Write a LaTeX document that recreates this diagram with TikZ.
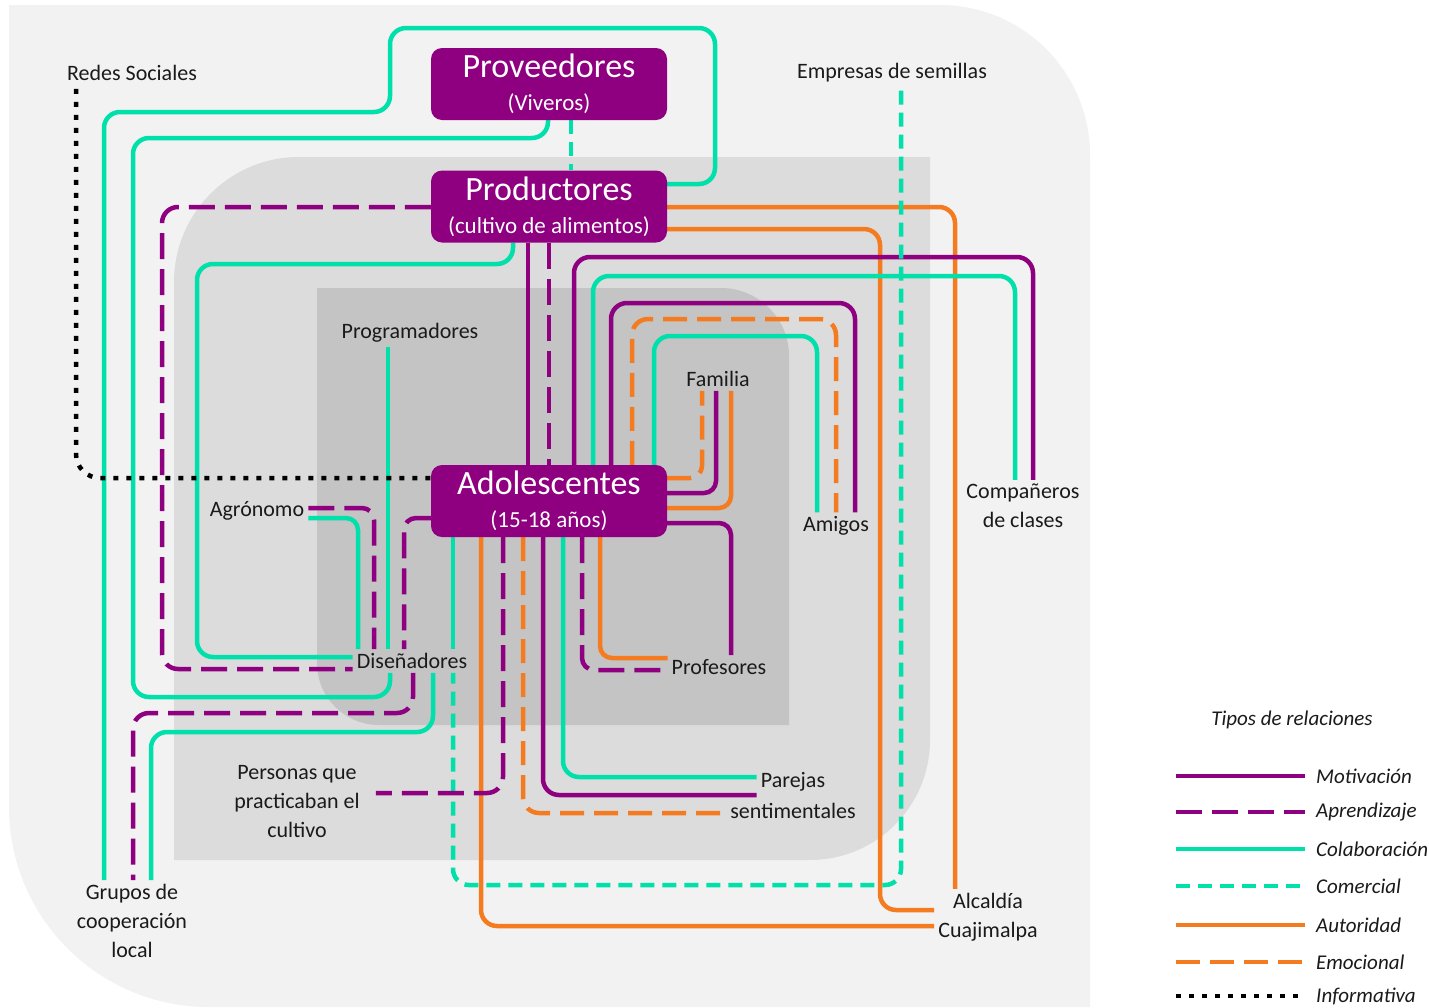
\documentclass[tikz,border=0pt]{standalone}
\usepackage{fontspec}
\setmainfont{Carlito}
\usetikzlibrary{positioning}

\definecolor{morado}{HTML}{8E0080}
\definecolor{turquesa}{HTML}{00E0AA}
\definecolor{naranja}{HTML}{F47B20}
\definecolor{fondoA}{HTML}{F2F2F2}
\definecolor{fondoB}{HTML}{DCDCDC}
\definecolor{fondoC}{HTML}{C4C4C4}
\definecolor{texto}{HTML}{1A1A1A}

\pgfdeclarelayer{fondo}
\pgfdeclarelayer{lineas}
\pgfsetlayers{fondo,lineas,main}

\tikzset{
  rel/.style={line width=4.5pt, rounded corners=16pt},
  motiv/.style={rel, draw=morado},
  aprend/.style={rel, draw=morado, dash pattern=on 26pt off 10pt},
  colab/.style={rel, draw=turquesa},
  comerc/.style={rel, draw=turquesa, dash pattern=on 14pt off 8pt},
  autor/.style={rel, draw=naranja},
  emoc/.style={rel, draw=naranja, dash pattern=on 24pt off 10pt},
  inform/.style={rel, draw=black, dash pattern=on 5pt off 8pt},
  caja/.style={fill=morado, text=white, rounded corners=11pt, minimum width=236pt,
    minimum height=72pt, align=center, inner sep=0pt, font=\fontsize{34}{33}\selectfont},
  etiq/.style={text=texto, font=\fontsize{22}{29}\selectfont, align=center, inner sep=4pt},
  leyenda/.style={text=texto, font=\itshape\fontsize{21}{24}\selectfont, inner sep=0pt},
}
\newcommand{\titcaja}[2]{#1\\{\fontsize{23}{33}\selectfont #2}}

\begin{document}
\begin{tikzpicture}[x=1pt,y=-1pt]
\useasboundingbox (0,0) rectangle (1429,1007);

\begin{pgfonlayer}{fondo}
\fill[white] (0,0) rectangle (1429,1007);
\fill[fondoA] (9,5) [rounded corners=150pt] -- (1090,5) [sharp corners] -- (1090,1007)
  [rounded corners=200pt] -- (9,1007) [sharp corners] -- cycle;
\fill[fondoB] (174,860) [rounded corners=125pt] -- (174,157) [sharp corners] -- (930,157)
  [rounded corners=120pt] -- (930,860) [sharp corners] -- cycle;
\fill[fondoC] (317,288) [rounded corners=68pt] -- (789,288) [sharp corners] -- (789,725)
  [rounded corners=62pt] -- (317,725) [sharp corners] -- cycle;
\end{pgfonlayer}

\node[caja] (prov) at (549,84) {\titcaja{Proveedores}{(Viveros)}};
\node[caja] (prod) at (549,206.5) {\titcaja{Productores}{(cultivo de alimentos)}};
\node[caja] (ado) at (549,501) {\titcaja{Adolescentes}{(15-18 años)}};

\node[etiq] (redes) at (132,73) {Redes Sociales};
\node[etiq] (emp) at (892,73) {Empresas de semillas};
\node[etiq] (prog) at (410,333) {Programadores};
\node[etiq] (fam) at (718,379) {Familia};
\node[etiq] (agro) at (257,511) {Agrónomo};
\node[etiq] (ami) at (836,526) {Amigos};
\node[etiq] (comp) at (1023,506) {Compañeros\\de clases};
\node[etiq] (dis) at (412,661) {Diseñadores};
\node[etiq] (prof) at (719,667) {Profesores};
\node[etiq] (par1) at (793,782) {Parejas};
\node[etiq] (par2) at (793,811) {sentimentales};
\node[etiq, inner xsep=16pt] (pers) at (297,802) {Personas que\\practicaban el\\cultivo};
\node[etiq] (grup) at (132,921) {Grupos de\\cooperación\\local};
\node[etiq] (alc) at (988,917) {Alcaldía\\Cuajimalpa};

\begin{pgfonlayer}{lineas}
\draw[autor] (prod.east |- 0,207) -- (955,207) -- (alc.north -| 955,0);
\draw[autor] (prod.east |- 0,229) -- (880,229) -- (880,910) -- (alc.west |- 0,910);
\draw[colab] (prod.east |- 0,184) -- (715,184) -- (715,28) -- (390,28) -- (390,112)
  -- (104,112) -- (grup.north -| 104,0);
\draw[colab] (prov.south -| 548,0) -- (548,138) -- (133,138) -- (133,697) -- (390,697)
  -- (dis.south -| 390,0);
\draw[comerc] (prov.south -| 571,0) -- (prod.north -| 571,0);
\draw[aprend] (prod.west |- 0,207) -- (162,207) -- (162,669) -- (dis.west |- 0,669);
\draw[colab] (prod.south -| 513,0) -- (513,264) -- (197,264) -- (197,657) -- (dis.west |- 0,657);
\draw[motiv] (prod.south -| 528,0) -- (ado.north -| 528,0);
\draw[aprend] (prod.south -| 549,0) -- (ado.north -| 549,0);

\draw[motiv] (ado.north -| 574,0) -- (574,257) -- (1033,257) -- (comp.north -| 1033,0);
\draw[colab] (ado.north -| 593,0) -- (593,276) -- (1015,276) -- (comp.north -| 1015,0);
\draw[motiv] (ado.north -| 611,0) -- (611,303) -- (855,303) -- (ami.north -| 855,0);
\draw[emoc] (ado.north -| 632,0) -- (632,319) -- (836,319) -- (ami.north -| 836,0);
\draw[colab] (ado.north -| 654,0) -- (654,336) -- (817,336) -- (ami.north -| 817,0);

\draw[emoc, rounded corners=12pt] (ado.east |- 0,478) -- (702,478) -- (fam.south -| 702,0);
\draw[motiv, rounded corners=12pt] (ado.east |- 0,493) -- (716,493) -- (fam.south -| 716,0);
\draw[autor, rounded corners=12pt] (ado.east |- 0,508) -- (731,508) -- (fam.south -| 731,0);
\draw[motiv, rounded corners=12pt] (ado.east |- 0,523) -- (731,523) -- (prof.north -| 731,0);

\draw[comerc, shorten <=4pt] (emp.south -| 901,0) -- (901,885) -- (453,885) -- (dis.south -| 453,0);
\draw[colab] (prog.south -| 388,0) -- (dis.north -| 388,0);
\draw[aprend, rounded corners=12pt] (agro.east |- 0,508) -- (374,508) -- (dis.north -| 374,0);
\draw[colab, rounded corners=12pt] (agro.east |- 0,518) -- (358,518) -- (dis.north -| 358,0);
\draw[aprend, rounded corners=12pt] (ado.west |- 0,518) -- (404,518) -- (dis.north -| 404,0);
\draw[colab] (ado.south -| 453,0) -- (dis.north -| 453,0);
\draw[aprend] (dis.south -| 413,0) -- (413,713) -- (133,713) -- (grup.north -| 133,0);
\draw[colab] (dis.south -| 433,0) -- (433,732) -- (151,732) -- (grup.north -| 151,0);

\draw[autor] (ado.south -| 481,0) -- (481,926) -- (alc.west |- 0,926);
\draw[aprend] (ado.south -| 503,0) -- (503,793) -- (pers.east |- 0,793);
\draw[emoc] (ado.south -| 523,0) -- (523,813) -- (par2.west |- 0,813);
\draw[motiv] (ado.south -| 543,0) -- (543,795) -- (par1.west |- 0,795);
\draw[colab] (ado.south -| 563,0) -- (563,777) -- (par1.west |- 0,777);
\draw[aprend, rounded corners=12pt] (ado.south -| 582,0) -- (582,670) -- (prof.west |- 0,670);
\draw[autor, rounded corners=12pt] (ado.south -| 600,0) -- (600,658) -- (prof.west |- 0,658);

\draw[inform, rounded corners=24pt, shorten <=4pt] (redes.south -| 76,0) -- (76,478) -- (ado.west |- 0,478);
\end{pgfonlayer}

% leyenda
\node[leyenda] (tipos) at (1292,720) {Tipos de relaciones};
\foreach \est/\nom/\yy in {motiv/Motivación/776, aprend/Aprendizaje/812, colab/Colaboración/849,
    comerc/Comercial/886, autor/Autoridad/925, emoc/Emocional/962, inform/Informativa/996} {
  \node[leyenda, anchor=west] (ley-\est) at (1316,\yy) {\nom};
  \draw[\est] (1176,\yy) -- ([xshift=-11pt]ley-\est.west);
}
\end{tikzpicture}
\end{document}
